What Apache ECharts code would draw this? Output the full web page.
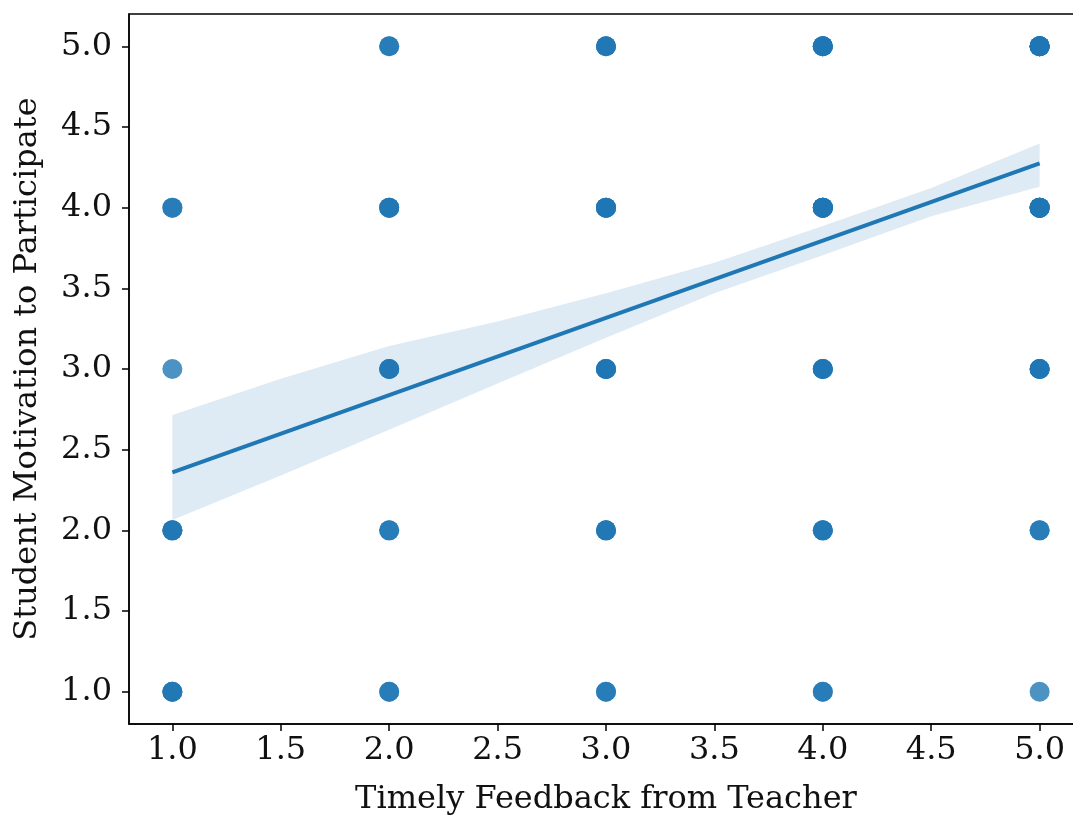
<!DOCTYPE html>
<html>
<head>
<meta charset="utf-8">
<script src="https://cdn.jsdelivr.net/npm/echarts@6/dist/echarts.min.js"></script>
<style>
  html, body { margin: 0; padding: 0; background: #fff; }
  #chart { width: 1073px; height: 815px; }
</style>
</head>
<body>
<div id="chart"></div>
<script>
// observed answer pairs (feedback, motivation) and how many respondents sit on each spot
const feedback   = [1, 1, 1, 1, 2, 2, 2, 2, 2, 3, 3, 3, 3, 3, 4, 4, 4, 4, 4, 5, 5, 5, 5, 5]
const motivation = [1, 2, 3, 4, 1, 2, 3, 4, 5, 1, 2, 3, 4, 5, 1, 2, 3, 4, 5, 1, 2, 3, 4, 5]
const counts     = [3, 3, 1, 2, 2, 2, 3, 3, 2, 2, 3, 4, 4, 3, 2, 3, 4, 6, 5, 1, 2, 4, 7, 8]

// fitted regression line
const fitX = [1.0, 5.0]
const fitY = [2.36, 4.275]

// 95% confidence band
const ciX     = [1.0, 1.5, 2.0, 2.5, 3.0, 3.5, 4.0, 4.5, 5.0]
const ciUpper = [2.715, 2.94, 3.142, 3.295, 3.47, 3.658, 3.886, 4.122, 4.397]
const ciLower = [2.065, 2.34, 2.623, 2.91, 3.193, 3.47, 3.705, 3.946, 4.129]

const xTicks = [1.0, 1.5, 2.0, 2.5, 3.0, 3.5, 4.0, 4.5, 5.0]
const yTicks = [1.0, 1.5, 2.0, 2.5, 3.0, 3.5, 4.0, 4.5, 5.0]

const blue = '#1f77b4'
const font = 'DejaVu Serif'

// one symbol per respondent, so overlaps darken like the original
const scatterData = []
feedback.forEach((x, i) => {
  for (let k = 0; k < counts[i]; k++) scatterData.push([x, motivation[i]])
})

const bandPoints = ciX.map((x, i) => [x, ciUpper[i]])
  .concat(ciX.map((x, i) => [x, ciLower[i]]).reverse())

const axisCommon = {
  type: 'value',
  min: 0.8,
  max: 5.2,
  axisLine: { show: true, lineStyle: { color: '#000', width: 1.5 } },
  axisTick: { show: true, length: 7, lineStyle: { color: '#000', width: 1.5 } },
  splitLine: { show: false },
  nameLocation: 'middle',
  nameTextStyle: { fontFamily: font, fontSize: 32, color: '#111' }
}

const chart = echarts.init(document.getElementById('chart'))
chart.setOption({
  animation: false,
  grid: {
    // figure is cropped on the right in the original, so the plot box runs past the edge
    left: 129, top: 14, right: -10, bottom: 91,
    outerBoundsMode: 'none',
    show: true, borderColor: '#000', borderWidth: 1.5, backgroundColor: 'transparent'
  },
  xAxis: Object.assign({}, axisCommon, {
    name: 'Timely Feedback from Teacher',
    nameGap: 60,
    axisTick: Object.assign({}, axisCommon.axisTick, { customValues: xTicks }),
    axisLabel: {
      customValues: xTicks, margin: 11,
      fontFamily: font, fontSize: 32, color: '#111',
      formatter: v => v.toFixed(1)
    }
  }),
  yAxis: Object.assign({}, axisCommon, {
    name: 'Student Motivation to Participate',
    nameGap: 85,
    axisTick: Object.assign({}, axisCommon.axisTick, { customValues: yTicks }),
    axisLabel: {
      customValues: yTicks, margin: 17,
      fontFamily: font, fontSize: 32, color: '#111',
      formatter: v => v.toFixed(1)
    }
  }),
  series: [
    {
      type: 'scatter',
      z: 1,
      symbolSize: 20,
      itemStyle: { color: blue, opacity: 0.8 },
      data: scatterData
    },
    {
      type: 'custom',
      z: 2,
      silent: true,
      renderItem: (params, api) => {
        if (params.dataIndex !== 0) return
        return {
          type: 'polygon',
          shape: { points: bandPoints.map(p => api.coord(p)) },
          style: { fill: blue, opacity: 0.15 }
        }
      },
      data: [bandPoints[0]]
    },
    {
      type: 'line',
      z: 3,
      symbol: 'none',
      lineStyle: { color: blue, width: 4 },
      data: fitX.map((x, i) => [x, fitY[i]])
    }
  ]
})
</script>
</body>
</html>
